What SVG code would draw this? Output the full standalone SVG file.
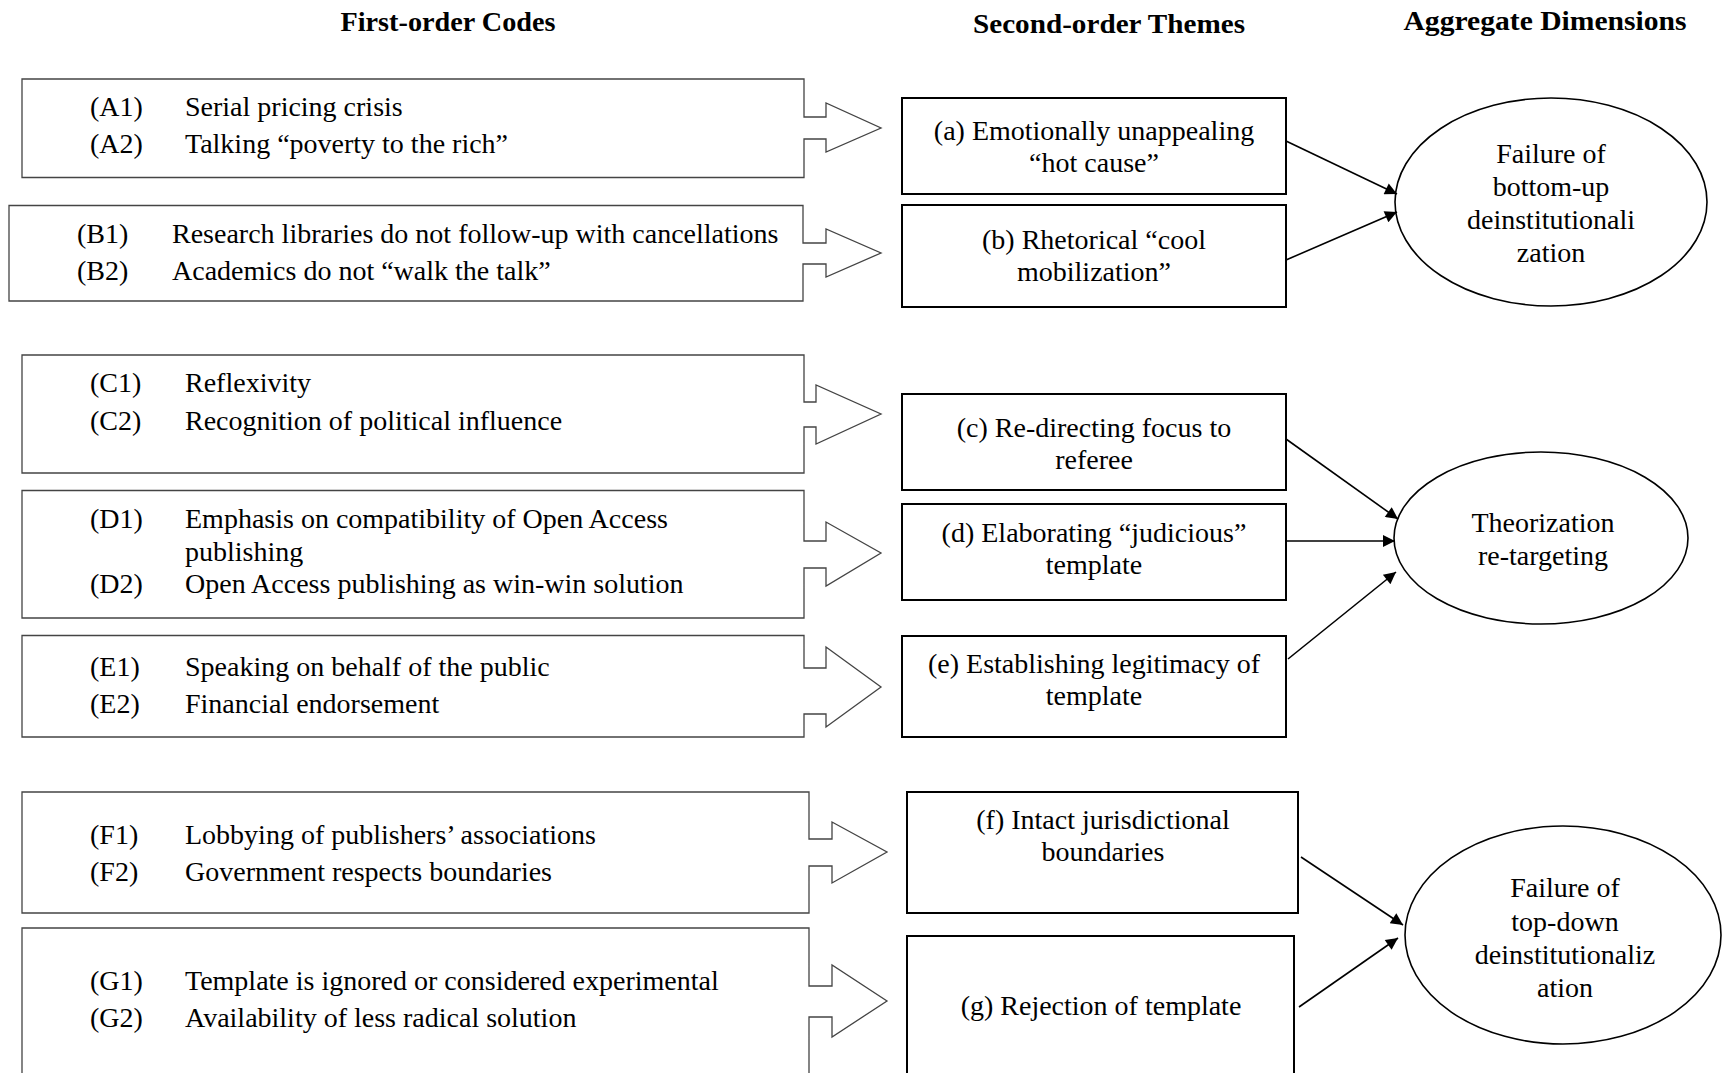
<svg xmlns="http://www.w3.org/2000/svg" width="1722" height="1073" viewBox="0 0 1722 1073">
<style>
text{font-family:"Liberation Serif","Times New Roman",serif;fill:#000}
.hd{font-size:27px;font-weight:bold;text-anchor:middle}
.tx{font-size:28px}
.ct{font-size:28px;text-anchor:middle}
.code{fill:#fff;stroke:#444;stroke-width:1.3}
.theme{fill:#fff;stroke:#000;stroke-width:2}
.dim{fill:#fff;stroke:#000;stroke-width:1.6}
.conn line{stroke:#000;stroke-width:1.6}
</style>
<defs>
<marker id="ah" viewBox="0 0 10 10" refX="10" refY="5" markerUnits="userSpaceOnUse" markerWidth="15" markerHeight="12" orient="auto">
<path d="M0,0 L10,5 L0,10 z" fill="#000"/>
</marker>
</defs>
<rect width="1722" height="1073" fill="#fff"/>

<g id="headers">
<text class="hd" x="448" y="31" textLength="215" lengthAdjust="spacingAndGlyphs">First-order Codes</text>
<text class="hd" x="1109" y="33" textLength="272" lengthAdjust="spacingAndGlyphs">Second-order Themes</text>
<text class="hd" x="1545" y="30" textLength="283" lengthAdjust="spacingAndGlyphs">Aggregate Dimensions</text>
</g>

<g id="codeA">
<path class="code" d="M22,79 H804 V117 H826 V103 L881,128 L826,152 V139 H804 V177.5 H22 Z"/>
<text class="tx" x="90" y="116">(A1)</text><text class="tx" x="185" y="116">Serial pricing crisis</text>
<text class="tx" x="90" y="153">(A2)</text><text class="tx" x="185" y="153">Talking “poverty to the rich”</text>
</g>
<g id="codeB">
<path class="code" d="M9,205.5 H803 V243 H826 V229 L881,253 L826,277 V264 H803 V301 H9 Z"/>
<text class="tx" x="77" y="243">(B1)</text><text class="tx" x="172" y="243">Research libraries do not follow-up with cancellations</text>
<text class="tx" x="77" y="280">(B2)</text><text class="tx" x="172" y="280">Academics do not “walk the talk”</text>
</g>
<g id="codeC">
<path class="code" d="M22,355 H804 V402 H816 V385 L881,414 L816,444 V427 H804 V473 H22 Z"/>
<text class="tx" x="90" y="392">(C1)</text><text class="tx" x="185" y="392">Reflexivity</text>
<text class="tx" x="90" y="430">(C2)</text><text class="tx" x="185" y="430">Recognition of political influence</text>
</g>
<g id="codeD">
<path class="code" d="M22,490.5 H804 V541 H826 V522 L881,553 L826,586 V568 H804 V618 H22 Z"/>
<text class="tx" x="90" y="528">(D1)</text><text class="tx" x="185" y="528">Emphasis on compatibility of Open Access</text>
<text class="tx" x="185" y="561">publishing</text>
<text class="tx" x="90" y="593">(D2)</text><text class="tx" x="185" y="593">Open Access publishing as win-win solution</text>
</g>
<g id="codeE">
<path class="code" d="M22,635.5 H804 V668 H826 V647 L881,687 L826,727 V714 H804 V737 H22 Z"/>
<text class="tx" x="90" y="676">(E1)</text><text class="tx" x="185" y="676">Speaking on behalf of the public</text>
<text class="tx" x="90" y="713">(E2)</text><text class="tx" x="185" y="713">Financial endorsement</text>
</g>
<g id="codeF">
<path class="code" d="M22,792 H809 V839 H832 V822 L887,852 L832,883 V866 H809 V913 H22 Z"/>
<text class="tx" x="90" y="844">(F1)</text><text class="tx" x="185" y="844">Lobbying of publishers’ associations</text>
<text class="tx" x="90" y="881">(F2)</text><text class="tx" x="185" y="881">Government respects boundaries</text>
</g>
<g id="codeG">
<path class="code" d="M22,928 H809 V986 H832 V965 L887,1001 L832,1037 V1017 H809 V1080 H22 Z"/>
<text class="tx" x="90" y="990">(G1)</text><text class="tx" x="185" y="990">Template is ignored or considered experimental</text>
<text class="tx" x="90" y="1027">(G2)</text><text class="tx" x="185" y="1027">Availability of less radical solution</text>
</g>

<g id="themeA">
<rect class="theme" x="902" y="98" width="384" height="96"/>
<text class="ct" x="1094" y="140">(a) Emotionally unappealing</text>
<text class="ct" x="1094" y="172">“hot cause”</text>
</g>
<g id="themeB">
<rect class="theme" x="902" y="205" width="384" height="102"/>
<text class="ct" x="1094" y="249">(b) Rhetorical “cool</text>
<text class="ct" x="1094" y="281">mobilization”</text>
</g>
<g id="themeC">
<rect class="theme" x="902" y="394" width="384" height="96"/>
<text class="ct" x="1094" y="437">(c) Re-directing focus to</text>
<text class="ct" x="1094" y="469">referee</text>
</g>
<g id="themeD">
<rect class="theme" x="902" y="504" width="384" height="96"/>
<text class="ct" x="1094" y="542">(d) Elaborating “judicious”</text>
<text class="ct" x="1094" y="574">template</text>
</g>
<g id="themeE">
<rect class="theme" x="902" y="636" width="384" height="101"/>
<text class="ct" x="1094" y="673">(e) Establishing legitimacy of</text>
<text class="ct" x="1094" y="705">template</text>
</g>
<g id="themeF">
<rect class="theme" x="907" y="792" width="391" height="121"/>
<text class="ct" x="1103" y="829">(f) Intact jurisdictional</text>
<text class="ct" x="1103" y="861">boundaries</text>
</g>
<g id="themeG">
<rect class="theme" x="907" y="936" width="387" height="150"/>
<text class="ct" x="1101" y="1015">(g) Rejection of template</text>
</g>

<g id="dim1">
<ellipse class="dim" cx="1551" cy="202" rx="156" ry="104"/>
<text class="ct" x="1551" y="163">Failure of</text>
<text class="ct" x="1551" y="196">bottom-up</text>
<text class="ct" x="1551" y="229">deinstitutionali</text>
<text class="ct" x="1551" y="262">zation</text>
</g>
<g id="dim2">
<ellipse class="dim" cx="1541" cy="538" rx="147" ry="86"/>
<text class="ct" x="1543" y="532">Theorization</text>
<text class="ct" x="1543" y="565">re-targeting</text>
</g>
<g id="dim3">
<ellipse class="dim" cx="1563" cy="935" rx="158" ry="109"/>
<text class="ct" x="1565" y="897">Failure of</text>
<text class="ct" x="1565" y="931">top-down</text>
<text class="ct" x="1565" y="964">deinstitutionaliz</text>
<text class="ct" x="1565" y="997">ation</text>
</g>

<g id="connectors" class="conn">
<line x1="1286" y1="141" x2="1397" y2="194" marker-end="url(#ah)"/>
<line x1="1286" y1="260" x2="1397" y2="212" marker-end="url(#ah)"/>
<line x1="1286" y1="439" x2="1398" y2="519" marker-end="url(#ah)"/>
<line x1="1286" y1="541" x2="1395" y2="541" marker-end="url(#ah)"/>
<line x1="1288" y1="659" x2="1396" y2="572" marker-end="url(#ah)"/>
<line x1="1301" y1="857" x2="1403" y2="925" marker-end="url(#ah)"/>
<line x1="1299" y1="1007" x2="1398" y2="938" marker-end="url(#ah)"/>
</g>
</svg>
